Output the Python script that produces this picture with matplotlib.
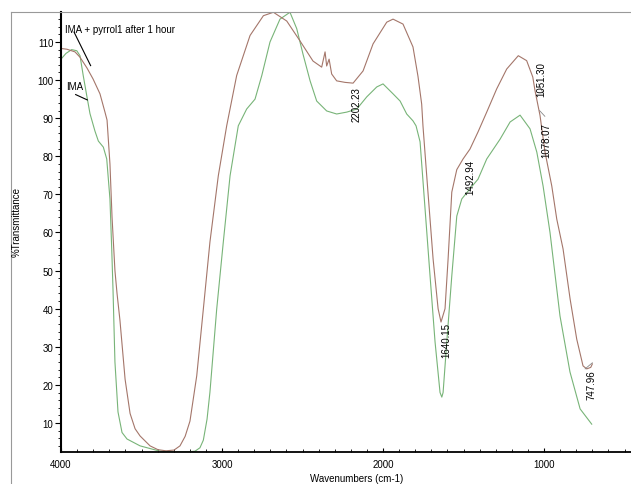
import numpy as np
import matplotlib
matplotlib.use('Agg')
import matplotlib.pyplot as plt
from matplotlib.lines import Line2D
from matplotlib.ticker import MultipleLocator

plt.rcParams['font.family'] = ['Liberation Sans', 'DejaVu Sans']

# IMA + pyrrol1 after 1 hour (brown)
w_pyr = [4000, 3963, 3913, 3882, 3839, 3801, 3758, 3727, 3714, 3696, 3683, 3665, 3652, 3634,
         3602, 3571, 3540, 3509, 3447, 3398, 3348, 3298, 3261, 3229, 3199, 3157, 3116, 3075,
         3023, 2971, 2909, 2826, 2743, 2681, 2598, 2516, 2435, 2381, 2360, 2350, 2335, 2319,
         2288, 2236, 2186, 2124, 2062, 1977, 1938, 1876, 1814, 1783, 1760, 1752, 1721, 1689,
         1658, 1640, 1615, 1596, 1573, 1542, 1503, 1460, 1410, 1356, 1294, 1232, 1160, 1108,
         1070, 1056, 1025, 994, 952, 921, 882, 838, 797, 758, 735, 710, 700]
t_pyr = [108.3, 108.1, 107.4, 106.0, 103.2, 100.3, 96.4, 91.6, 89.5, 78.0, 64.0, 50.0, 44.0, 37.0,
         21.5, 12.5, 8.5, 6.6, 4.0, 3.0, 2.7, 2.9, 4.0, 6.5, 10.5, 22.4, 39.9, 57.5,
         74.9, 88.0, 101.2, 111.7, 116.9, 117.8, 115.5, 110.3, 105.0, 103.4, 107.4, 103.7, 105.5, 101.6,
         99.8, 99.4, 99.2, 102.4, 109.5, 115.2, 116.0, 114.7, 108.7, 101.0, 93.7, 88.0, 70.6, 53.0,
         40.0, 36.5, 40.0, 53.0, 70.6, 76.5, 79.3, 81.9, 86.4, 91.6, 97.7, 102.9, 106.4, 105.1,
         100.8, 97.2, 90.7, 81.1, 72.2, 63.5, 55.7, 42.5, 32.0, 25.0, 24.2, 24.6, 25.5]

# IMA (green)
w_ima = [4000, 3969, 3934, 3902, 3882, 3862, 3840, 3820, 3789, 3768, 3737, 3716, 3696, 3685,
         3677, 3665, 3646, 3621, 3590, 3509, 3385, 3292, 3217, 3168, 3137, 3116, 3093, 3075,
         3033, 2992, 2950, 2899, 2847, 2795, 2753, 2702, 2640, 2578, 2536, 2497, 2453, 2412,
         2350, 2288, 2225, 2163, 2101, 2039, 2000, 1938, 1894, 1853, 1814, 1795, 1770, 1739,
         1708, 1677, 1646, 1635, 1627, 1604, 1573, 1542, 1511, 1460, 1410, 1356, 1273, 1211,
         1149, 1087, 1045, 1006, 963, 901, 839, 776, 704]
t_ima = [105.5, 107.0, 108.0, 107.7, 106.4, 101.2, 95.9, 91.2, 86.6, 84.0, 82.4, 79.3, 68.8, 55.7,
         45.0, 26.0, 12.9, 7.5, 5.8, 4.0, 2.6, 2.4, 2.4, 2.6, 3.5, 5.5, 11.0, 18.1,
         39.9, 57.5, 74.9, 88.0, 92.4, 95.0, 101.2, 110.0, 116.0, 117.8, 113.5, 106.8, 99.8, 94.5,
         91.9, 91.1, 91.6, 92.4, 95.6, 98.2, 99.0, 96.4, 94.5, 91.1, 89.3, 88.0, 83.8, 66.2,
         48.6, 31.3, 18.0, 16.8, 18.0, 31.3, 48.6, 64.3, 68.8, 71.5, 74.0, 79.3, 84.5, 89.0,
         90.8, 87.2, 81.1, 72.2, 60.0, 38.1, 23.4, 13.7, 9.7]

peak_labels = ['2202.23', '1640.15', '1492.94', '1051.30', '1078.07', '747.96']
peak_x = [2163, 1604, 1460, 1014, 983, 704]
peak_y = [98.5, 36.5, 79.3, 105.0, 89.0, 24.2]

fig = plt.figure(figsize=(6.31, 4.85), dpi=100)
ax = fig.add_axes([61/631, 32/485, 570/631, 440/485])

ax.plot(w_ima, t_ima, color='#78b478', lw=0.8)
ax.plot(w_pyr, t_pyr, color='#a4766a', lw=0.8)

ax.set_xlim(4000, 460)
ax.set_ylim(2.39, 117.87)

ax.xaxis.set_major_locator(MultipleLocator(1000))
ax.xaxis.set_minor_locator(MultipleLocator(100))
ax.yaxis.set_major_locator(MultipleLocator(10))
ax.yaxis.set_minor_locator(MultipleLocator(2))
ax.set_yticks(range(10, 111, 10))

ax.spines['top'].set_visible(False)
ax.spines['right'].set_visible(False)
ax.spines['left'].set_linewidth(1.5)
ax.spines['bottom'].set_linewidth(1.3)

ax.tick_params(axis='y', which='major', direction='out', length=4, width=0.8, labelsize=7, pad=1.5)
ax.tick_params(axis='y', which='minor', direction='out', length=2, width=0.6)
ax.tick_params(axis='x', which='major', direction='in', length=3, width=0.8, labelsize=7, pad=5)
ax.tick_params(axis='x', which='minor', direction='in', length=2, width=0.6)

# legend-ish labels with leaders
ax.text(3975, 113.4, 'IMA + pyrrol1 after 1 hour', fontsize=7, va='center', ha='left')
ax.plot([3919, 3816], [112.6, 103.8], color='black', lw=0.8)
ax.text(3969, 98.5, 'IMA', fontsize=7, va='center', ha='left')
ax.plot([3909, 3837], [96.2, 94.8], color='black', lw=0.8)

for lab, px, py in zip(peak_labels, peak_x, peak_y):
    ax.text(px, py, lab, rotation=90, fontsize=7, ha='center', va='top')

# small leaders for the crowded labels
ax.plot([1035, 1005], [99.0, 96.5], color='#888888', lw=0.6)
ax.plot([1028, 995], [92.0, 90.5], color='#888888', lw=0.6)
ax.plot([745, 700], [24.2, 25.8], color='#888888', lw=0.6)

fig.text(17/631, 1 - 222/485, '%Transmittance', rotation=90, fontsize=7, ha='center', va='center')
fig.text(357/631, 1 - 479/485, 'Wavenumbers (cm-1)', fontsize=7, ha='center', va='center')

# outer frame of the printout
fig.add_artist(Line2D([11/631, 1], [1 - 13/485, 1 - 13/485], color='#999999', lw=0.8))
fig.add_artist(Line2D([11/631, 11/631], [0, 1 - 13/485], color='#999999', lw=0.8))

fig.savefig('out.png', dpi=100)
